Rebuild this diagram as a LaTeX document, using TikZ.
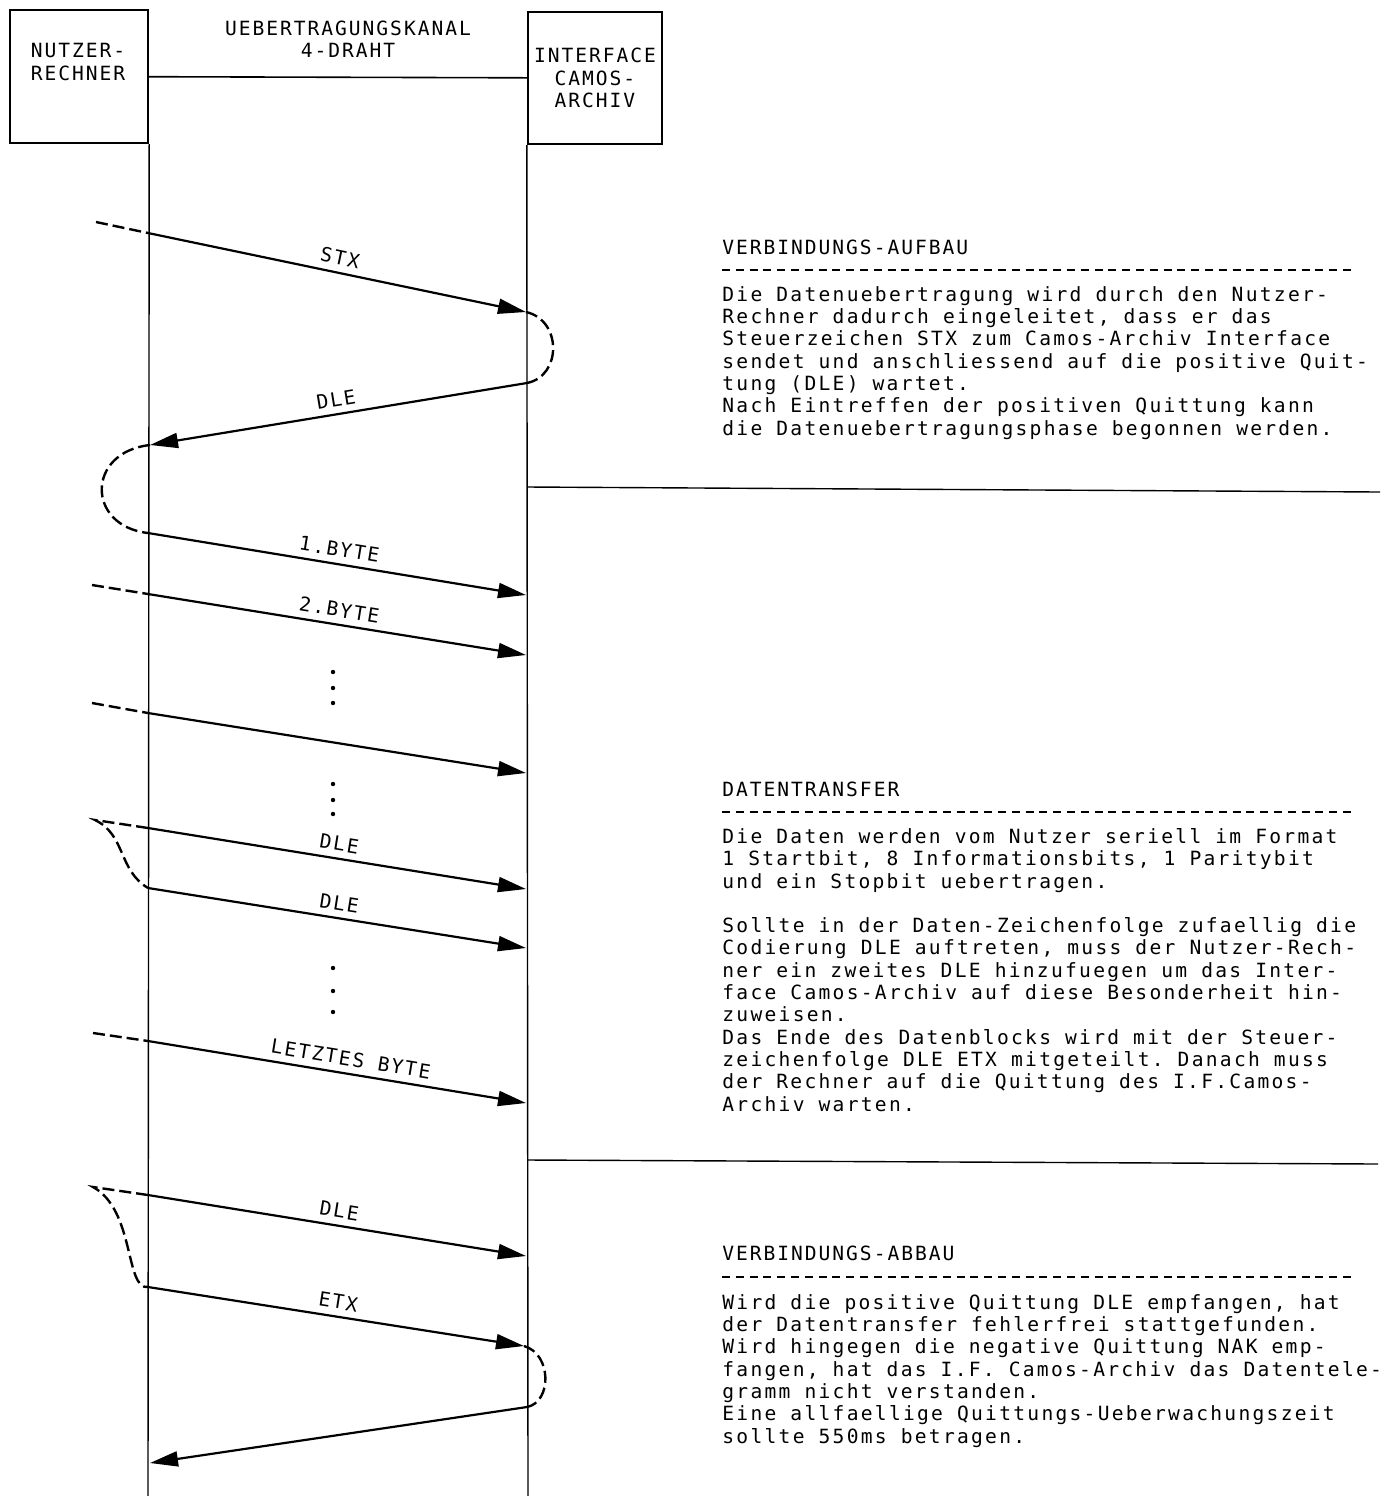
\documentclass[tikz,border=0pt]{standalone}
\usepackage{fontspec}
\setmonofont[LetterSpace=10]{DejaVu Sans Mono}
\newfontfamily\bodyfont[LetterSpace=11.6]{DejaVu Sans Mono}
\usetikzlibrary{arrows.meta, positioning}
\tikzset{
every node/.style={font=\ttfamily\fontsize{9.8}{11.15}\selectfont}, % typewriter look for every text
msg/.style={line width=1.1pt, -{Triangle[length=14pt,width=7.5pt]}}, % message arrows
lead/.style={line width=1.2pt, dash pattern=on 6pt off 2.5pt}, % dashed lead-ins and loops
}
\frenchspacing

\begin{document}
\begin{tikzpicture}[x=0.5pt, y=-0.5pt, box/.style = {draw, line width=1.2pt, inner sep=0}, lbl/.style = {sloped, above, midway}, txt/.style = {anchor=north west, align=left, inner sep=0, font=\bodyfont\fontsize{9.8}{11.15}\selectfont}]
    \useasboundingbox (0,0) rectangle (1396,1496);

    % the two stations
    \node[box, minimum width=69pt, minimum height=66.5pt] (nutzer) at (79,76.5) {};
    \node[align=center] (nutzertext) at (78,62) {NUTZER-\\RECHNER};
    \node[box, minimum width=67pt, minimum height=66pt, align=center] (iface) at (595,78) {INTERFACE\\CAMOS-\\ARCHIV};
    \node[align=center] (kanal) at (348,39) {UEBERTRAGUNGSKANAL\\4-DRAHT};
    \draw[line width=0.8pt] (nutzer) -- (iface);

    % lifelines
    \coordinate (nbot) at (148,1496);
    \coordinate (ibot) at (528,1496);
    \draw[line width=0.7pt] (nutzer.south east) -- (nbot);
    \draw[line width=0.7pt] (iface.south west) -- (ibot);

    % section borders
    \coordinate (b1) at (528,487);
    \coordinate (b1e) at (1380,492);
    \coordinate (b2) at (528,1160);
    \coordinate (b2e) at (1378,1164);
    \draw[line width=0.7pt] (b1) -- (b1e);
    \draw[line width=0.7pt] (b2) -- (b2e);

    % arrow ends
    \coordinate (s1) at (148,233);   \coordinate (e1) at (526,312);
    \coordinate (s2) at (527,383);   \coordinate (e2) at (150,445);
    \coordinate (s3) at (148,533);   \coordinate (e3) at (526,595);
    \coordinate (s4) at (148,594);   \coordinate (e4) at (526,655);
    \coordinate (s5) at (148,713);   \coordinate (e5) at (526,773);
    \coordinate (s6) at (148,828);   \coordinate (e6) at (526,889);
    \coordinate (s7) at (148,888);   \coordinate (e7) at (526,948);
    \coordinate (s8) at (148,1041);  \coordinate (e8) at (526,1103);
    \coordinate (s9) at (148,1195);  \coordinate (e9) at (526,1256);
    \coordinate (s10) at (148,1287); \coordinate (e10) at (524,1346);
    \coordinate (s11) at (527,1407); \coordinate (e11) at (150,1463);

    % lead-in points
    \coordinate (a1) at (96,222);
    \coordinate (a4) at (92,585);
    \coordinate (a5) at (92,703);
    \coordinate (a6) at (95,820);
    \coordinate (a8) at (93,1033);
    \coordinate (a9) at (93,1187);

    % messages
    \draw[msg] (s1) -- node[lbl] {STX} (e1);
    \draw[msg] (s2) -- node[lbl] {DLE} (e2);
    \draw[msg] (s3) -- node[lbl] {1.BYTE} (e3);
    \draw[msg] (s4) -- node[lbl] {2.BYTE} (e4);
    \draw[msg] (s5) -- (e5);
    \draw[msg] (s6) -- node[lbl] {DLE} (e6);
    \draw[msg] (s7) -- node[lbl] {DLE} (e7);
    \draw[msg] (s8) -- node[lbl, pos=0.53] {LETZTES BYTE} (e8);
    \draw[msg] (s9) -- node[lbl] {DLE} (e9);
    \draw[msg] (s10) -- node[lbl] {ETX} (e10);
    \draw[msg] (s11) -- (e11);

    % dashed lead-ins and waiting loops
    \draw[lead] (a1) -- (s1);
    \draw[lead] (a4) -- (s4);
    \draw[lead] (a5) -- (s5);
    \draw[lead] (a8) -- (s8);
    \draw[lead] (e1) .. controls (562,320) and (562,376) .. (s2);
    \draw[lead] (e2) .. controls (86,452) and (86,526) .. (s3);
    \draw[lead] (s6) -- (a6) .. controls (126,835) and (118,870) .. (s7);
    \draw[lead] (s9) -- (a9) .. controls (135,1210) and (125,1290) .. (s10);
    \draw[lead] (e10) .. controls (552,1354) and (552,1402) .. (s11);

    % dots
    \fill (333,672) circle (2.2);
    \fill (333,688) circle (2.2);
    \fill (333,703) circle (2.2);
    \fill (333,784) circle (2.2);
    \fill (333,800) circle (2.2);
    \fill (333,814) circle (2.2);
    \fill (333,968) circle (2.2);
    \fill (333,991) circle (2.2);
    \fill (333,1012) circle (2.2);

    % descriptions
    \node[anchor=west, inner sep=0] (h1) at (722,247) {VERBINDUNGS-AUFBAU};
    \draw[line width=1pt, dash pattern=on 4pt off 2.9pt] (722,270) -- (1355,270);
    \node[txt] (t1) at (722,286) {Die Datenuebertragung wird durch den Nutzer-\\
Rechner dadurch eingeleitet, dass er das\\
Steuerzeichen STX zum Camos-Archiv Interface\\
sendet und anschliessend auf die positive Quit-\\
tung (DLE) wartet.\\
Nach Eintreffen der positiven Quittung kann\\
die Datenuebertragungsphase begonnen werden.};

    \node[anchor=west, inner sep=0] (h2) at (722,789) {DATENTRANSFER};
    \draw[line width=1pt, dash pattern=on 4pt off 2.9pt] (722,812) -- (1355,812);
    \node[txt] (t2) at (722,828) {Die Daten werden vom Nutzer seriell im Format\\
1 Startbit, 8 Informationsbits, 1 Paritybit\\
und ein Stopbit uebertragen.\\[11.15pt]
Sollte in der Daten-Zeichenfolge zufaellig die\\
Codierung DLE auftreten, muss der Nutzer-Rech-\\
ner ein zweites DLE hinzufuegen um das Inter-\\
face Camos-Archiv auf diese Besonderheit hin-\\
zuweisen.\\
Das Ende des Datenblocks wird mit der Steuer-\\
zeichenfolge DLE ETX mitgeteilt. Danach muss\\
der Rechner auf die Quittung des I.F.Camos-\\
Archiv warten.};

    \node[anchor=west, inner sep=0] (h3) at (722,1253) {VERBINDUNGS-ABBAU};
    \draw[line width=1pt, dash pattern=on 4pt off 2.9pt] (722,1277) -- (1355,1277);
    \node[txt] (t3) at (722,1294) {Wird die positive Quittung DLE empfangen, hat\\
der Datentransfer fehlerfrei stattgefunden.\\
Wird hingegen die negative Quittung NAK emp-\\
fangen, hat das I.F. Camos-Archiv das Datentele-\\
gramm nicht verstanden.\\
Eine allfaellige Quittungs-Ueberwachungszeit\\
sollte 550ms betragen.};
\end{tikzpicture}
\end{document}
